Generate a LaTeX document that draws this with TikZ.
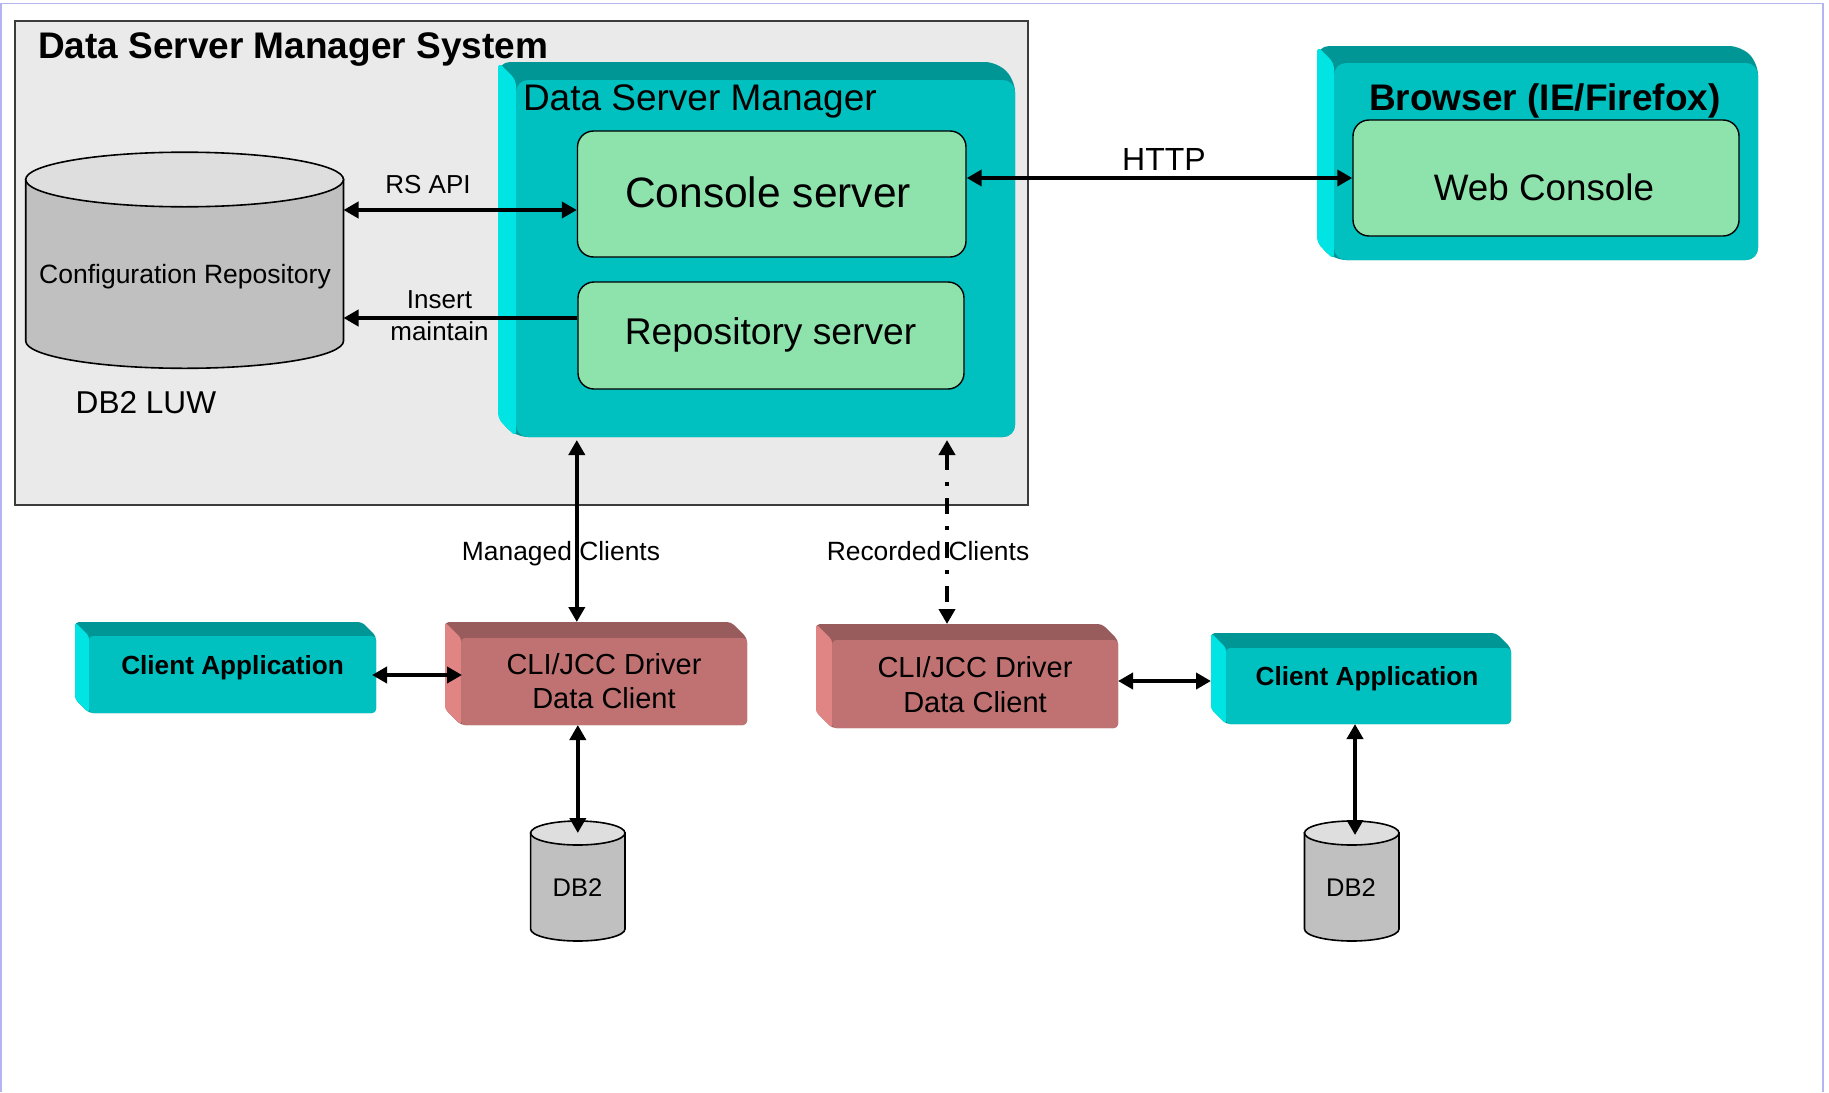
\documentclass[tikz,border=0pt]{standalone}
\usepackage{fontspec}
\setmainfont{Liberation Sans}
\usetikzlibrary{calc,arrows.meta}
\definecolor{framecol}{RGB}{180,180,242}
\definecolor{sysgray}{RGB}{234,234,234}
\definecolor{sysline}{RGB}{60,60,60}
\definecolor{tealfront}{RGB}{0,192,192}
\definecolor{tealtop}{RGB}{0,150,150}
\definecolor{tealleft}{RGB}{0,228,228}
\definecolor{mint}{RGB}{142,226,172}
\definecolor{redfront}{RGB}{192,114,114}
\definecolor{redtop}{RGB}{152,92,92}
\definecolor{redleft}{RGB}{224,132,132}
\definecolor{cylbody}{RGB}{192,192,192}
\definecolor{cyltop}{RGB}{222,222,222}
\newcommand\setfs[1]{\fontsize{#1}{#1}\selectfont}
% name, x1, y1, x2, y2 (outer), depth, front style, top style, left style
\newcommand\boxthreed[9]{%
  \pgfmathsetmacro\bxc{(#2+#4)/2}%
  \pgfmathsetmacro\byc{(#3+#5)/2}%
  \pgfmathsetmacro\bw{(#4-#2)/2}%
  \pgfmathsetmacro\bh{(#5-#3)/2}%
  \fill[#8] (#2,#3) -- (#4-#6,#3) -- (#4,#3+#6) -- (#4,#5) -- (#2+#6,#5) -- (#2,#5-#6) -- cycle;
  \fill[#9] (#2,#3) -- (#2+#6,#3+#6) -- (#2+#6,#5) -- (#2,#5-#6) -- cycle;
  \fill[#7] (#2+#6,#3+#6) rectangle (#4,#5);
  \node[inner sep=0pt, outer sep=0pt, minimum width=\bw pt, minimum height=\bh pt] (#1) at (\bxc,\byc) {};
}
% name, x1, x2, y top centre, y bottom centre, ry (px)
\newcommand\dbcyl[6]{%
  \pgfmathsetmacro\cxc{(#2+#3)/2}%
  \pgfmathsetmacro\crx{(#3-#2)/4}%
  \pgfmathsetmacro\cry{#6/2}%
  \pgfmathsetmacro\cyc{(#4+#5)/2}%
  \pgfmathsetmacro\cw{(#3-#2)/2}%
  \pgfmathsetmacro\ch{(#5-#4+2*#6)/2}%
  \filldraw[cylline, fill=cylbody] (#2,#4) -- (#2,#5) arc[start angle=180, end angle=360, x radius=\crx pt, y radius=\cry pt] -- (#3,#4) -- cycle;
  \filldraw[cylline, fill=cyltop] (\cxc,#4) ellipse[x radius=\crx pt, y radius=\cry pt];
  \node[inner sep=0pt, outer sep=0pt, minimum width=\cw pt, minimum height=\ch pt] (#1) at (\cxc,\cyc) {};
}
\begin{document}
\begin{tikzpicture}[x=0.5pt,y=-0.5pt,
  tealF/.style={fill=tealfront, rounded corners=6pt},
  tealT/.style={fill=tealtop, rounded corners=6pt},
  tealL/.style={fill=tealleft, rounded corners=3pt},
  tealFs/.style={fill=tealfront, rounded corners=2pt},
  tealTs/.style={fill=tealtop, rounded corners=2pt},
  tealLs/.style={fill=tealleft, rounded corners=1.5pt},
  redF/.style={fill=redfront, rounded corners=2pt},
  redT/.style={fill=redtop, rounded corners=2pt},
  redL/.style={fill=redleft, rounded corners=1.5pt},
  cylline/.style={draw=black, line width=0.8pt},
  mintbox/.style={draw=black, line width=0.7pt, fill=mint, rounded corners=8pt, inner sep=0pt},
  txt/.style={inner sep=0pt, outer sep=0pt, anchor=base},
  conn/.style={line width=2pt, >={Triangle[length=7.5pt,width=8pt]}},
  recdash/.style={dash pattern=on 8pt off 6pt on 2pt off 6pt}
]
\useasboundingbox (0,0) rectangle (1829,1092);
\fill[white] (0,0) rectangle (1829,1092);
\draw[framecol, line width=0.8pt] (1,1092) -- (1,3.5) -- (1823,3.5) -- (1823,1092);

% system box
\node[draw=sysline, line width=0.7pt, fill=sysgray, inner sep=0pt,
      minimum width=506.5pt, minimum height=242pt] (sys) at (521.5,263) {};
\node[txt, anchor=base west, font=\bfseries\setfs{18.5}] (systitle) at (38,58) {Data Server Manager System};

% Data Server Manager
\boxthreed{dsm}{498}{62}{1015}{437}{18}{tealF}{tealT}{tealL}
\node[txt, anchor=base west, font=\setfs{18.5}] (dsmtitle) at (523,110) {Data Server Manager};
\node[mintbox, minimum width=194.25pt, minimum height=63pt] (cs) at (771.75,194) {};
\node[txt, font=\setfs{21.25}] (cstext) at (768,207) {Console server};
\node[mintbox, minimum width=193pt, minimum height=53.5pt] (rs) at (771,335.5) {};
\node[txt, font=\setfs{18.6}] (rstext) at (770.5,344) {Repository server};

% Browser
\boxthreed{browser}{1317}{46}{1758}{260}{17}{tealF}{tealT}{tealL}
\node[txt, font=\bfseries\setfs{18.5}] (browsertitle) at (1545,110) {Browser (IE/Firefox)};
\node[mintbox, minimum width=193pt, minimum height=58pt] (web) at (1546,178) {};
\node[txt, font=\setfs{18.4}] (webtext) at (1544,200) {Web Console};

% configuration repository
\dbcyl{cfg}{25.7}{343.5}{179.5}{341}{27.3}
\node[txt, font=\setfs{13.25}] (cfgtext) at (185,283) {Configuration Repository};
\node[txt, anchor=base west, font=\setfs{15.8}] (luw) at (75.7,413) {DB2 LUW};

% bottom row
\boxthreed{ca1}{75}{622}{376}{713}{14}{tealFs}{tealTs}{tealLs}
\node[txt, font=\bfseries\setfs{13.1}] (ca1text) at (232.6,674) {Client Application};
\boxthreed{cli1}{445}{622}{747}{725}{16}{redF}{redT}{redL}
\node[txt, font=\setfs{14.5}] (cli1a) at (604,674) {CLI/JCC Driver};
\node[txt, font=\setfs{14.5}] (cli1b) at (604,708) {Data Client};
\boxthreed{cli2}{816}{624}{1118}{728}{16}{redF}{redT}{redL}
\node[txt, font=\setfs{14.5}] (cli2a) at (975,677) {CLI/JCC Driver};
\node[txt, font=\setfs{14.5}] (cli2b) at (975,712) {Data Client};
\boxthreed{ca2}{1211}{633}{1511}{724}{15}{tealFs}{tealTs}{tealLs}
\node[txt, font=\bfseries\setfs{13.1}] (ca2text) at (1367,685) {Client Application};

\dbcyl{db2a}{530.6}{625}{833}{929}{12}
\node[txt, font=\setfs{12.75}] (db2atext) at (577.5,896) {DB2};
\dbcyl{db2b}{1304.5}{1399}{833}{929}{12}
\node[txt, font=\setfs{12.75}] (db2btext) at (1351,896) {DB2};

% labels
\node[txt, font=\setfs{13}] (rsapi) at (428,193) {RS API};
\node[txt, font=\setfs{13}] (insert) at (439.5,308) {Insert};
\node[txt, font=\setfs{13}] (maintain) at (439.5,340) {maintain};
\node[txt, font=\setfs{16}] (http) at (1164,170) {HTTP};
\node[txt, font=\setfs{13.2}] (managed) at (561,560) {Managed Clients};
\node[txt, font=\setfs{13.2}] (recorded) at (928,560) {Recorded Clients};

% connectors
\draw[conn,<->] (cfg.east |- 0,210) -- (cs.west |- 0,210);
\draw[conn,->] (rs.west |- 0,318) -- (cfg.east |- 0,318);
\draw[conn,<->] (cs.east |- 0,178) -- (web.west |- 0,178);
\draw[conn,<->] ($(cs.west |- dsm.south)+(0,3)$) -- (cli1.north -| cs.west);
\draw[conn,recdash,<->] ($(947,0 |- dsm.south)+(0,3)$) -- (cli2.north -| 947,0);
\draw[conn,<->] ($(ca1.east |- 0,675)+(-4,0)$) -- ($(cli1.west |- 0,675)+(17,0)$);
\draw[conn,<->] (cli1.south -| db2a.north) -- ($(db2a.north)+(0,12)$);
\draw[conn,<->] (cli2.east |- 0,681) -- (ca2.west |- 0,681);
\draw[conn,<->] (ca2.south -| 1355,0) -- ($(1355,0 |- db2b.north)+(0,14)$);
\end{tikzpicture}
\end{document}
